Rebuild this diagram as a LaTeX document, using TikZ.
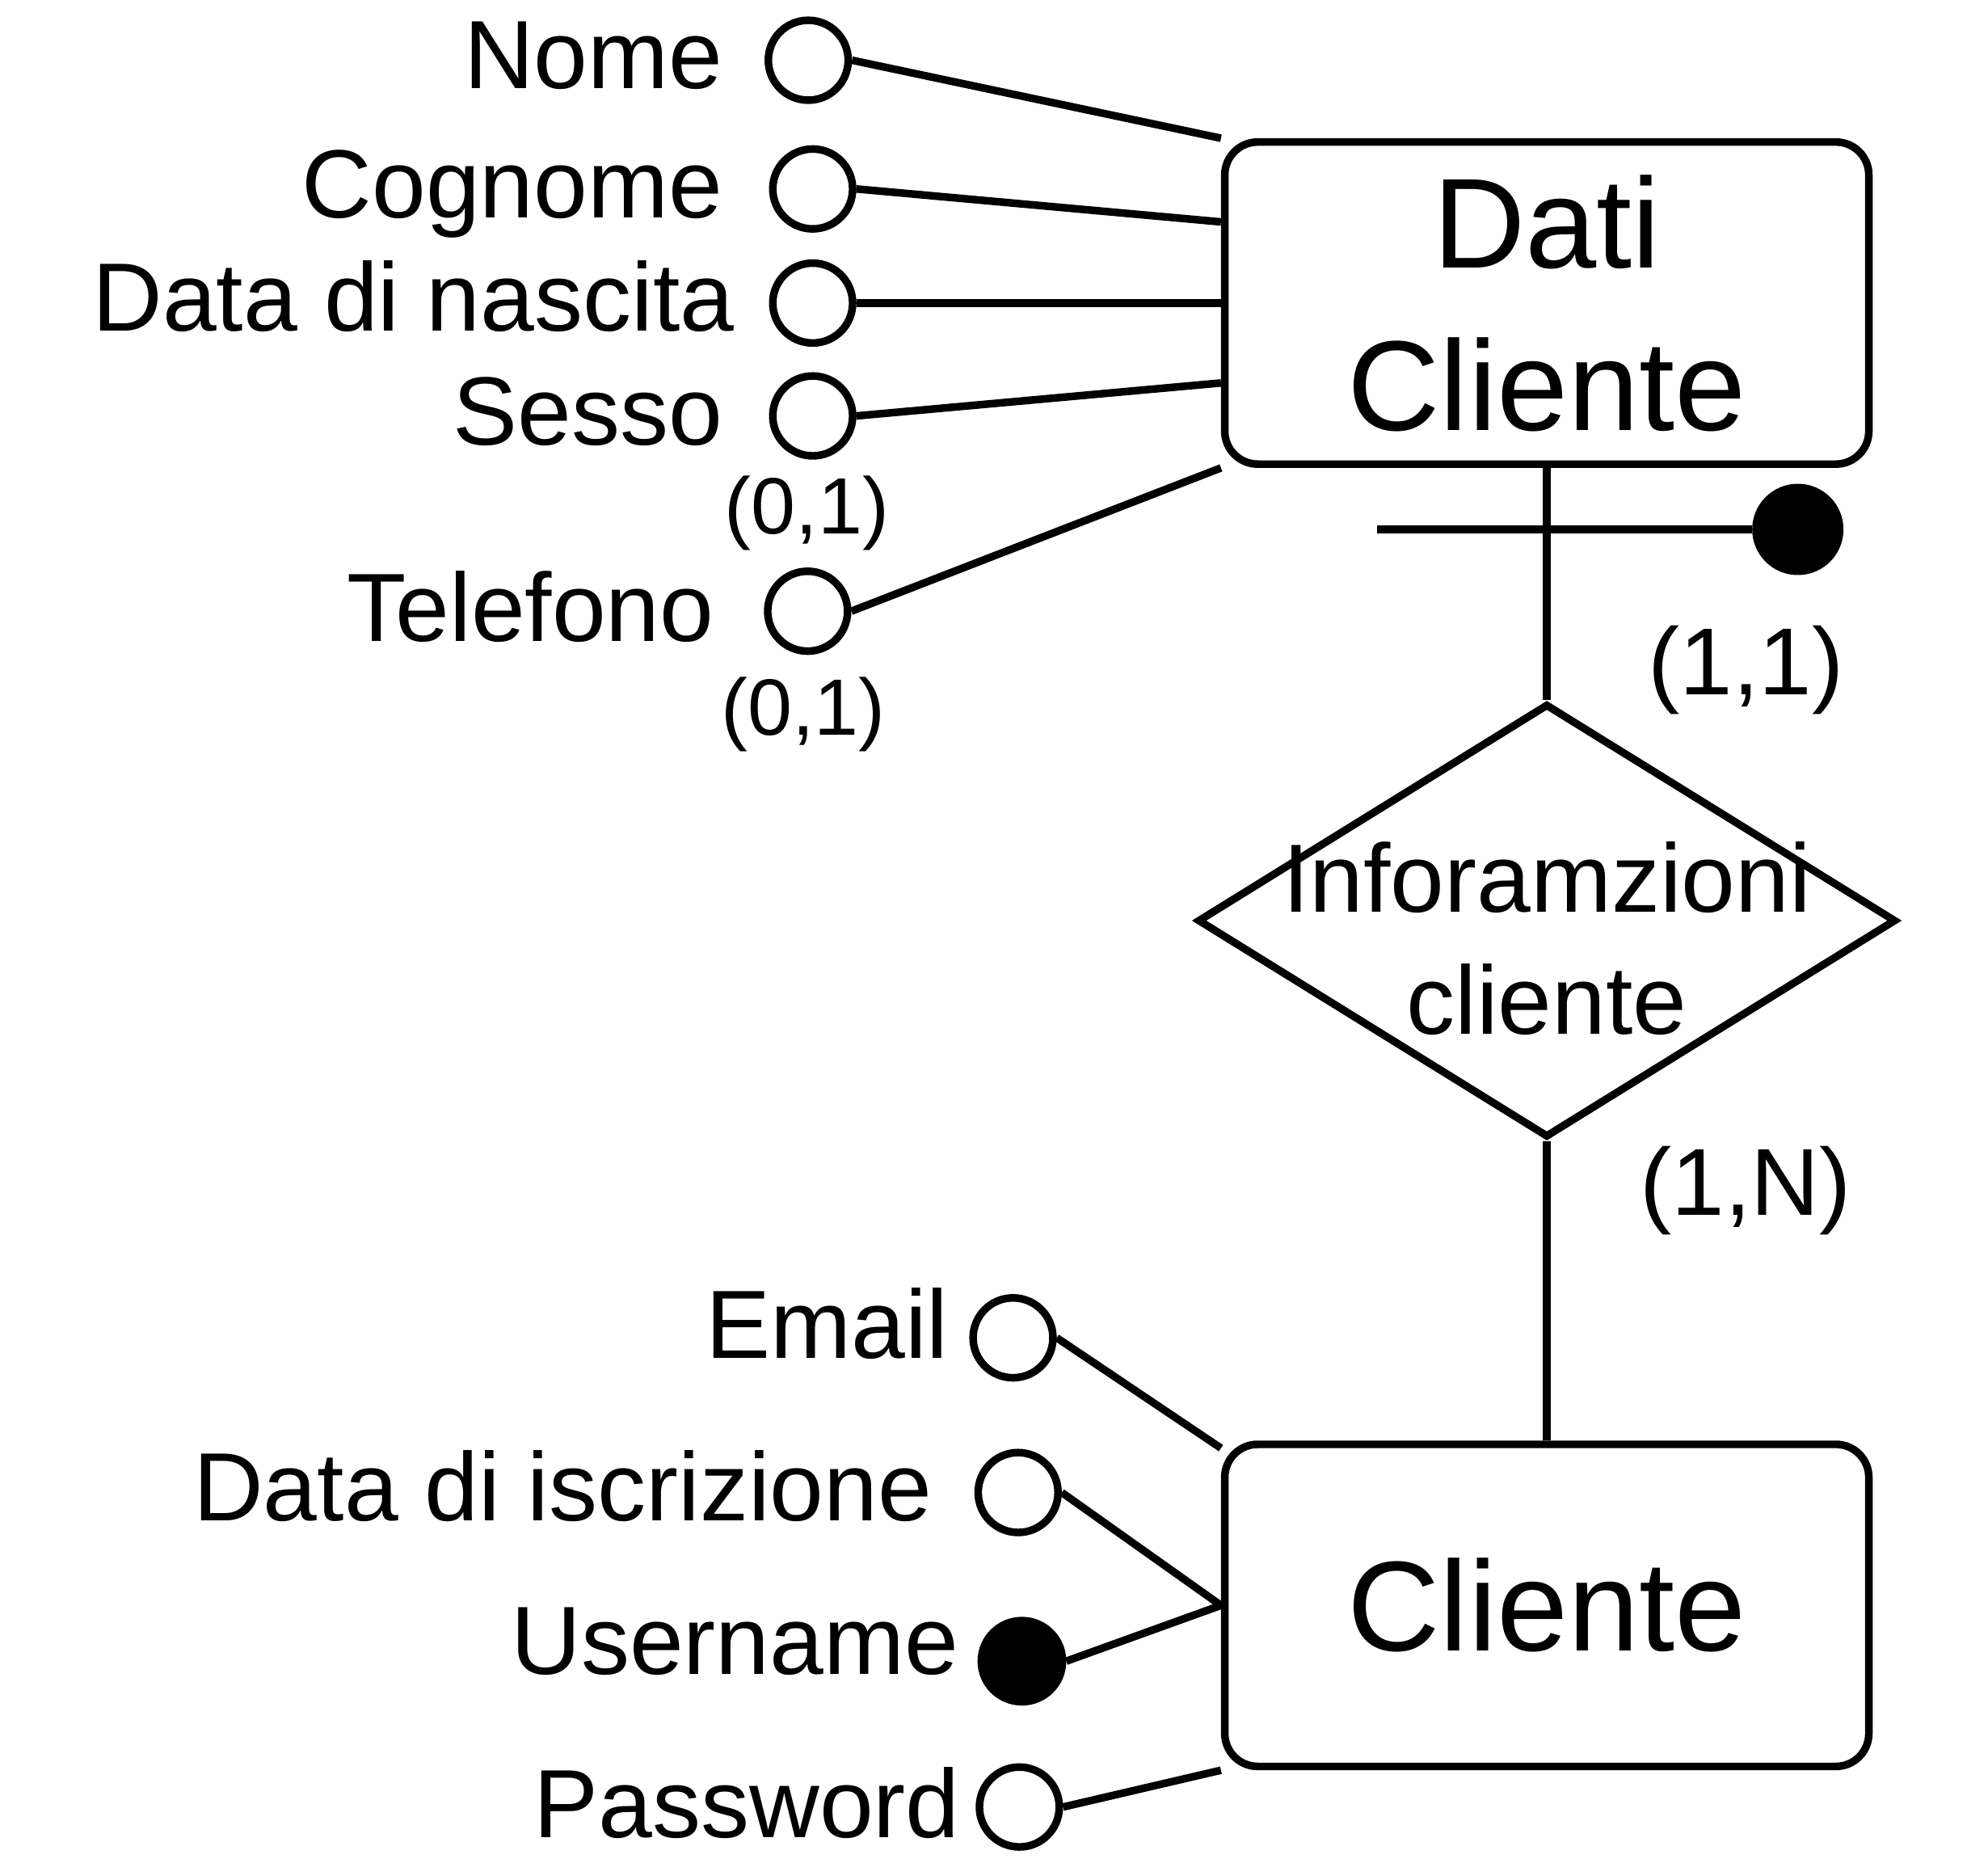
\documentclass[tikz,border=0pt]{standalone}
\usepackage{fontspec}
\setmainfont{Liberation Sans}
\usetikzlibrary{calc}
\usetikzlibrary{shapes.geometric}

\begin{document}
\begin{tikzpicture}[x=1pt, y=-1pt, line width=6pt,
  entity/.style={draw, rounded corners=26pt, minimum width=508pt, minimum height=254pt, inner sep=0pt, align=center, font=\fontsize{101}{128}\selectfont},
  relation/.style={draw, diamond, minimum width=551pt, minimum height=342pt, inner sep=0pt},
  attr/.style={draw, circle, fill=white, minimum size=63pt, inner sep=0pt},
  keyattr/.style={draw, circle, fill=black, minimum size=64pt, inner sep=0pt},
  attrlabel/.style={anchor=base east, inner sep=0pt, font=\fontsize{76.5}{88}\selectfont},
  card/.style={anchor=base, inner sep=0pt, font=\fontsize{75}{88}\selectfont},
  smallcard/.style={anchor=base, inner sep=0pt, font=\fontsize{63}{72}\selectfont}]
  \useasboundingbox (0,0) rectangle (1568,1466);

  % entities and relationship
  \node[entity] (dati) at (1220,239) {Dati\\Cliente};
  \node[entity] (cliente) at (1220,1266) {Cliente};
  \node[relation] (info) at (1220,726) {};
  \node[align=center, font=\fontsize{76.5}{96}\selectfont] (infotext) at ($(info)+(0,14)$) {Inforamzioni\\cliente};
  \draw (dati.south) -- (info.north);
  \draw (info.south) -- (cliente.north);

  % external identifier
  \coordinate (idstart) at (1086,417.5);
  \node[keyattr, minimum size=66pt] (idkey) at (1418,417.5) {};
  \draw (idstart) -- (idkey);

  \node[card] (card11) at (1377,548) {(1,1)};
  \node[card] (card1n) at (1377,958) {(1,N)};

  % attributes of Dati Cliente
  \node[attr] (nome) at (637.5,47.5) {};
  \node[attr] (cognome) at (641,149) {};
  \node[attr] (nascita) at (641,239) {};
  \node[attr] (sesso) at (641,328) {};
  \node[attr] (telefono) at (637,482) {};
  \node[attrlabel] (nomel) at (573,70) {Nome};
  \node[attrlabel] (cognomel) at (573,172) {Cognome};
  \node[attrlabel] (nascital) at (582,261) {Data di nascita};
  \node[attrlabel] (sessol) at (573,351) {Sesso};
  \node[attrlabel] (telefonol) at (566,506) {Telefono};
  \node[smallcard] (card01a) at (636.5,421) {(0,1)};
  \node[smallcard] (card01b) at (633.5,580) {(0,1)};
  \draw (nome.east) -- (dati.north west);
  \draw (cognome.east) -- ($(dati.west)+(0,-64)$);
  \draw (nascita.east) -- (dati.west);
  \draw (sesso.east) -- ($(dati.west)+(0,63)$);
  \draw (telefono.east) -- (dati.south west);

  % attributes of Cliente
  \node[attr] (email) at (799,1055) {};
  \node[attr] (iscrizione) at (803,1177) {};
  \node[keyattr] (username) at (806,1310) {};
  \node[attr] (password) at (804,1425) {};
  \node[attrlabel] (emaill) at (751,1071) {Email};
  \node[attrlabel] (iscrizionel) at (738,1199) {Data di iscrizione};
  \node[attrlabel] (usernamel) at (759,1320.5) {Username};
  \node[attrlabel] (passwordl) at (760,1449) {Password};
  \draw (email.east) -- ($(cliente.north west)+(0,6)$);
  \draw (iscrizione.east) -- (cliente.west);
  \draw (username.east) -- (cliente.west);
  \draw (password.east) -- (cliente.south west);
\end{tikzpicture}
\end{document}
